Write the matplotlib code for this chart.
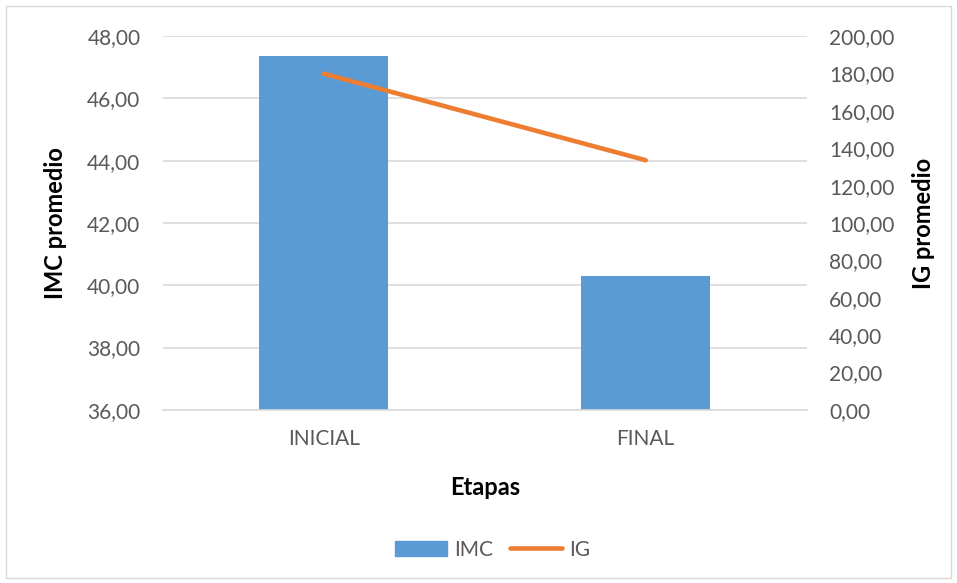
import matplotlib.pyplot as plt
from matplotlib.ticker import FuncFormatter, MultipleLocator
from matplotlib.lines import Line2D
from matplotlib.patches import Patch, Rectangle

etapas = ['INICIAL', 'FINAL']
imc = [47.35, 40.30]
ig = [179.9, 133.6]

plt.rcParams['font.family'] = ['Lato', 'DejaVu Sans']

def coma(v, pos):
    return f'{v:.2f}'.replace('.', ',')

fig = plt.figure(figsize=(9.57, 5.83), dpi=100)
ax = fig.add_axes([0.170, 0.297, 0.673, 0.641])
ax2 = ax.twinx()

x = range(len(etapas))
ax.bar(x, imc, width=0.40, color='#5B9BD5', zorder=2)
ax.set_ylim(36, 48)
ax.yaxis.set_major_locator(MultipleLocator(2))
ax.yaxis.set_major_formatter(FuncFormatter(coma))
ax.set_xlim(-0.5, 1.5)
ax.set_xticks(list(x))
ax.set_xticklabels(etapas)
ax.grid(axis='y', color='#D9D9D9', linewidth=1.2, zorder=0)
ax.set_axisbelow(True)

ax2.plot(x, ig, color='#ED7D31', linewidth=3.3, solid_capstyle='round', zorder=3)
ax2.set_ylim(0, 200)
ax2.yaxis.set_major_locator(MultipleLocator(20))
ax2.yaxis.set_major_formatter(FuncFormatter(coma))

for a in (ax, ax2):
    for s in a.spines.values():
        s.set_visible(False)
    a.tick_params(length=0, labelsize=15, colors='#595959', pad=16)
ax.tick_params(axis='x', pad=14)
ax.spines['bottom'].set_visible(True)
ax.spines['bottom'].set_color('#D9D9D9')
ax.spines['bottom'].set_linewidth(1.2)

ax.set_ylabel('IMC promedio', fontsize=17, fontweight='bold')
ax2.set_ylabel('IG promedio', fontsize=17, fontweight='bold')
ax.set_xlabel('Etapas', fontsize=17, fontweight='bold')
ax.yaxis.set_label_coords(-0.148, 0.5)
ax2.yaxis.set_label_coords(1.163, 0.5)
ax.xaxis.set_label_coords(0.5, -0.178)

handles = [Patch(color='#5B9BD5', label='IMC'),
           Line2D([0], [0], color='#ED7D31', linewidth=3.3, solid_capstyle='round', label='IG')]
fig.legend(handles=handles, loc='center', bbox_to_anchor=(0.515, 0.057), ncol=2, frameon=False,
           fontsize=15, labelcolor='#595959', handlelength=2.5, handleheight=0.75,
           columnspacing=0.8, handletextpad=0.35)

fig.patches.append(Rectangle((0.006, 0.009), 0.988, 0.98, transform=fig.transFigure,
                             fill=False, edgecolor='#D9D9D9', linewidth=1))

fig.savefig('out.png', dpi=100)
